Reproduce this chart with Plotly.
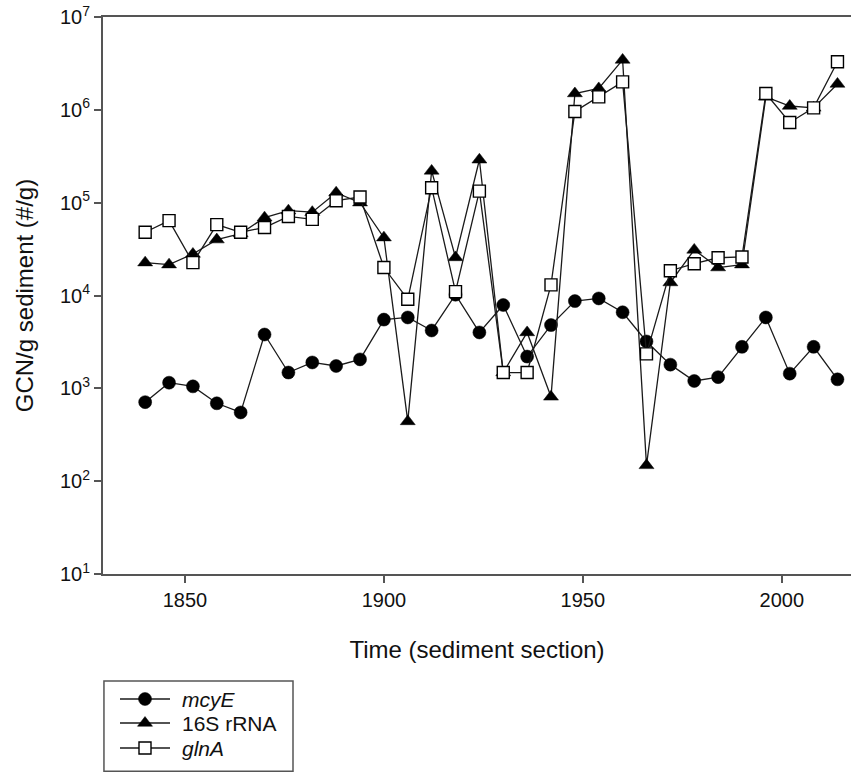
import plotly.graph_objects as go

# Sediment section ages (years)
years = [1840, 1846, 1852, 1858, 1864, 1870, 1876, 1882, 1888, 1894,
         1900, 1906, 1912, 1918, 1924, 1930, 1936, 1942, 1948, 1954,
         1960, 1966, 1972, 1978, 1984, 1990, 1996, 2002, 2008, 2014]

# Gene copy numbers per gram of sediment
mcyE = [710, 1150, 1050, 690, 550, 3800, 1480, 1900, 1740, 2050,
        5500, 5800, 4200, 10200, 4000, 7900, 2200, 4800, 8700, 9300,
        6600, 3200, 1800, 1200, 1320, 2800, 5800, 1440, 2800, 1250]

rRNA_16S = [22600, 21500, 28000, 40000, 46500, 69000, 82000, 79000, 128000, 100000,
            42000, 440, 220000, 25700, 290000, 1480, 4000, 810, 1500000, 1700000,
            3450000, 148, 13800, 31000, 20000, 21500, 1380000, 1100000, 1050000, 1900000]

glnA = [48000, 64000, 22600, 58000, 48000, 54000, 71000, 66000, 105000, 115000,
        20000, 9100, 145000, 11000, 133000, 1480, 1480, 13000, 960000, 1380000,
        2000000, 2350, 18500, 22000, 25500, 26000, 1500000, 730000, 1050000, 3300000]

series_names = ["<i>mcyE</i>", "16S rRNA", "<i>glnA</i>"]

y_tickvals = [1e1, 1e2, 1e3, 1e4, 1e5, 1e6, 1e7]
y_ticktext = ["10<sup>%d</sup>" % k for k in range(1, 8)]
x_tickvals = [1850, 1900, 1950, 2000]

font_family = "Arial, Liberation Sans, sans-serif"
line_col = "#1a1a1a"
axis_col = "#555555"
text_col = "#111111"

# marker styles per series: (symbol, size, fill, outline width)
styles = [
    ("circle", 13, "black", 0.5),
    ("triangle-up", 13, "black", 0.5),
    ("square", 12, "white", 1.4),
]

fig = go.Figure()

for name, vals, (sym, size, fill, lw) in zip(series_names, [mcyE, rRNA_16S, glnA], styles):
    fig.add_trace(go.Scatter(
        x=years, y=vals, name=name, mode="lines+markers",
        line=dict(color=line_col, width=1.3),
        marker=dict(symbol=sym, size=size, color=fill,
                    line=dict(color="black", width=lw)),
        xaxis="x", yaxis="y", showlegend=False,
    ))

# Key box below the plot, drawn on its own hidden pixel-scaled axes
key_rows = [75, 51, 26]
for name, row, (sym, size, fill, lw) in zip(series_names, key_rows, styles):
    fig.add_trace(go.Scatter(
        x=[17, 42, 67], y=[row, row, row], mode="lines+markers",
        line=dict(color=line_col, width=1.3),
        marker=dict(symbol=sym, size=size, color=fill, opacity=[0, 1, 0],
                    line=dict(color="black", width=lw)),
        xaxis="x2", yaxis="y2", showlegend=False, hoverinfo="skip",
    ))
    fig.add_annotation(
        x=77, y=row, xref="x2", yref="y2", text=name, showarrow=False,
        xanchor="left", yanchor="middle",
        font=dict(family=font_family, size=21, color=text_col),
    )

fig.add_shape(
    type="rect", xref="x2 domain", yref="y2 domain",
    x0=0.005, x1=1, y0=0.03, y1=1,
    line=dict(color=axis_col, width=1.5), fillcolor="rgba(0,0,0,0)",
)

plot_bottom = 200 / 757

fig.update_layout(
    width=851, height=774,
    margin=dict(l=103, r=0, t=17, b=0, autoexpand=False),
    paper_bgcolor="white", plot_bgcolor="white",
    font=dict(family=font_family, color=text_col, size=20),
    showlegend=False,
    xaxis=dict(
        domain=[0, 1], anchor="y", automargin=False,
        range=[1829.4, 2017.4],
        tickvals=x_tickvals,
        ticks="outside", ticklen=7, tickwidth=1.5, tickcolor=axis_col,
        showline=True, linecolor=axis_col, linewidth=2, mirror=True,
        showgrid=False, zeroline=False,
        tickfont=dict(size=20),
        title=dict(text="Time (sediment section)", font=dict(size=24), standoff=31),
    ),
    yaxis=dict(
        domain=[plot_bottom, 1], anchor="x", automargin=False,
        type="log",
        range=[1, 7],
        tickvals=y_tickvals, ticktext=y_ticktext,
        ticks="outside", ticklen=7, tickwidth=1.5, tickcolor=axis_col,
        showline=True, linecolor=axis_col, linewidth=2,
        showgrid=False, zeroline=False,
        tickfont=dict(size=20),
        title=dict(text="GCN/g sediment (#/g)", font=dict(size=24), standoff=20),
    ),
    xaxis2=dict(domain=[0, 190 / 748], anchor="y2", range=[0, 190],
                visible=False, fixedrange=True, automargin=False),
    yaxis2=dict(domain=[0, 93 / 757], anchor="x2", range=[0, 93],
                visible=False, fixedrange=True, automargin=False),
)

fig.write_html("out.html")
